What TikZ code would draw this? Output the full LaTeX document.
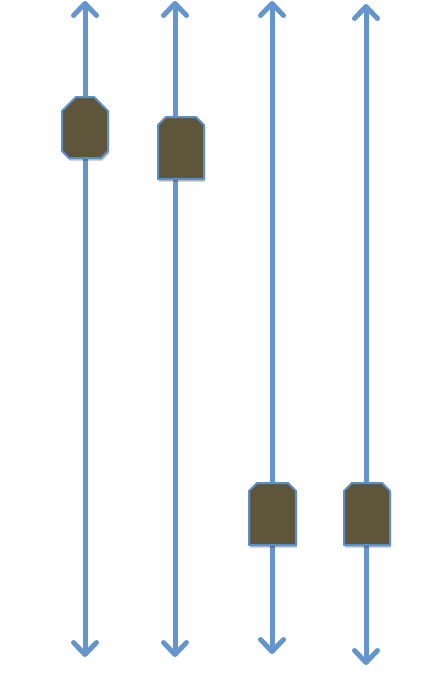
\documentclass[tikz,border=0pt]{standalone}
\usetikzlibrary{arrows.meta,shadows}
\definecolor{rail}{RGB}{100,150,205}
\definecolor{boxfill}{RGB}{94,85,58}
\definecolor{boxedge}{RGB}{91,143,200}
\tikzset{
  railline/.style={draw=rail, line width=5pt,
    {Straight Barb[length=12pt,width=23pt,line cap=round,line join=round]}-{Straight Barb[length=12pt,width=23pt,line cap=round,line join=round]}},
  slider/.style={fill=boxfill, draw=boxedge, line width=2pt, line join=round,
    drop shadow={shadow xshift=1pt, shadow yshift=-2.5pt, opacity=0.25, fill=black}}
}
\begin{document}
\begin{tikzpicture}[x=1pt,y=-1pt]
\useasboundingbox (0,0) rectangle (434,678);
% rail ends
\coordinate (t1) at (85,1);   \coordinate (b1) at (85,657);
\coordinate (t2) at (175,1);  \coordinate (b2) at (175,657);
\coordinate (t3) at (272,1);  \coordinate (b3) at (272,654);
\coordinate (t4) at (366,4);  \coordinate (b4) at (366,665);
\draw[railline] (t1) -- (b1);
\draw[railline] (t2) -- (b2);
\draw[railline] (t3) -- (b3);
\draw[railline] (t4) -- (b4);
% sliders
\path[slider] (76,97) -- (94,97) -- (108,111) -- (108,151) -- (101,158) -- (69,158) -- (62,151) -- (62,111) -- cycle;
\path[slider] (166,117) -- (196,117) -- (204,125) -- (204,179) -- (158,179) -- (158,125) -- cycle;
\path[slider] (257,483) -- (288,483) -- (296,491) -- (296,545) -- (249,545) -- (249,491) -- cycle;
\path[slider] (352,483) -- (382,483) -- (390,491) -- (390,545) -- (344,545) -- (344,491) -- cycle;
\end{tikzpicture}
\end{document}
